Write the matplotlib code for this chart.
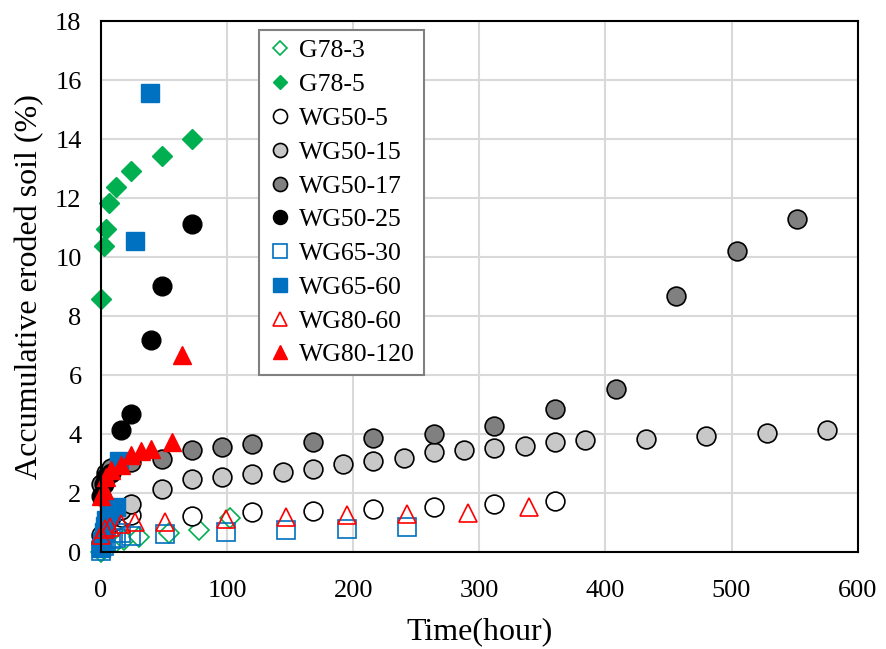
import matplotlib.pyplot as plt

plt.rcParams['font.family'] = ['Liberation Serif', 'DejaVu Serif']

# G78-3 / G78-5
g78_3_t = [0, 2, 6, 12, 18, 30, 54, 78, 102]
g78_3_v = [0.02, 0.12, 0.25, 0.35, 0.42, 0.52, 0.64, 0.76, 1.16]
g78_5_t = [0, 2, 4, 6, 12, 24, 48, 72]
g78_5_v = [8.6, 10.4, 10.95, 11.85, 12.4, 12.93, 13.43, 14.0]

# WG50 series
wg50_5_t = [0, 2, 4, 8, 12, 16, 24, 72, 120, 168, 216, 264, 312, 360]
wg50_5_v = [0.3, 0.6, 0.8, 1.0, 1.1, 1.2, 1.25, 1.22, 1.35, 1.4, 1.46, 1.54, 1.63, 1.74]
wg50_15_t = [0, 4, 8, 16, 24, 48, 72, 96, 120, 144, 168, 192, 216, 240, 264,
             288, 312, 336, 360, 384, 432, 480, 528, 576]
wg50_15_v = [0.6, 1.0, 1.2, 1.45, 1.65, 2.16, 2.5, 2.55, 2.67, 2.72, 2.84, 3.0,
             3.09, 3.2, 3.4, 3.48, 3.54, 3.62, 3.73, 3.8, 3.85, 3.95, 4.05, 4.14]
wg50_17_t = [0, 4, 8, 24, 48, 72, 96, 120, 168, 216, 264, 312, 360, 408, 456, 504, 552]
wg50_17_v = [2.3, 2.7, 2.85, 3.05, 3.17, 3.48, 3.57, 3.68, 3.74, 3.89, 4.02,
             4.27, 4.86, 5.52, 8.69, 10.2, 11.29]
wg50_25_t = [0, 2, 4, 8, 16, 24, 40, 48, 72]
wg50_25_v = [1.9, 2.3, 2.55, 2.7, 4.14, 4.68, 7.21, 9.03, 11.12]

# WG65 series
wg65_30_t = [0, 2, 4, 8, 12, 16, 24, 51, 99, 147, 195, 243]
wg65_30_v = [0.05, 0.2, 0.3, 0.45, 0.5, 0.65, 0.55, 0.61, 0.7, 0.75, 0.8, 0.87]
wg65_60_t = [0, 1, 2, 3, 4, 6, 8, 12, 14, 27, 39]
wg65_60_v = [0.15, 0.4, 0.7, 0.9, 1.1, 1.3, 1.4, 1.55, 3.1, 10.57, 15.58]

# WG80 series
wg80_60_t = [0, 3, 7, 16, 27, 51, 99, 147, 195, 243, 291, 339]
wg80_60_v = [0.6, 0.8, 0.86, 0.97, 1.03, 1.03, 1.14, 1.18, 1.25, 1.31, 1.33, 1.52]
wg80_120_t = [0, 2, 4, 8, 16, 24, 32, 40, 56, 64]
wg80_120_v = [1.9, 2.1, 2.55, 2.8, 2.95, 3.3, 3.45, 3.5, 3.75, 6.7]

green = '#00b050'
blue = '#0070c0'
red = '#ff0000'

fig = plt.figure(figsize=(8.86, 6.49), dpi=100)
ax = fig.add_axes([0.114, 0.149, 0.854, 0.818])

ms = 13.5
series = [
    (g78_3_t, g78_3_v, 'G78-3', dict(marker='D', ms=9.7, mfc='white', mec=green, mew=1.2)),
    (g78_5_t, g78_5_v, 'G78-5', dict(marker='D', ms=9.7, mfc=green, mec=green)),
    (wg50_5_t, wg50_5_v, 'WG50-5', dict(marker='o', ms=ms, mfc='white', mec='black', mew=1.2)),
    (wg50_15_t, wg50_15_v, 'WG50-15', dict(marker='o', ms=ms, mfc='#c8c8c8', mec='black', mew=1.2)),
    (wg50_17_t, wg50_17_v, 'WG50-17', dict(marker='o', ms=ms, mfc='#808080', mec='black', mew=1.2)),
    (wg50_25_t, wg50_25_v, 'WG50-25', dict(marker='o', ms=ms, mfc='black', mec='black')),
    (wg65_30_t, wg65_30_v, 'WG65-30', dict(marker='s', ms=ms, mfc='none', mec=blue, mew=1.2)),
    (wg65_60_t, wg65_60_v, 'WG65-60', dict(marker='s', ms=ms, mfc=blue, mec=blue)),
    (wg80_60_t, wg80_60_v, 'WG80-60', dict(marker='^', ms=ms, mfc='none', mec=red, mew=1.2)),
    (wg80_120_t, wg80_120_v, 'WG80-120', dict(marker='^', ms=ms, mfc=red, mec=red)),
]
for t, v, name, style in series:
    ax.plot(t, v, linestyle='none', label=name, clip_on=False, **style)

ax.set_xlim(0, 600)
ax.set_ylim(0, 18)
ax.set_xticks(range(0, 601, 100))
ax.set_yticks(range(0, 19, 2))
ax.tick_params(length=0, labelsize=19)
ax.tick_params(axis='x', pad=20)
ax.tick_params(axis='y', pad=14)
ax.grid(True, color='#d9d9d9', linewidth=1.5)
ax.set_axisbelow(True)
for s in ax.spines.values():
    s.set_linewidth(1.5)
    s.set_color('black')

ax.set_xlabel('Time(hour)', fontsize=23, labelpad=11)
ax.set_ylabel('Accumulative eroded soil (%)', fontsize=23, labelpad=8)

leg = ax.legend(loc='upper left', bbox_to_anchor=(0.209, 0.983), borderaxespad=0,
                fontsize=18.5, fancybox=False, edgecolor='#808080', framealpha=1,
                markerscale=0.75, handlelength=0.9, handletextpad=0.3,
                labelspacing=0.42, borderpad=0.35)
leg.get_frame().set_linewidth(1.5)

fig.savefig('out.png')
